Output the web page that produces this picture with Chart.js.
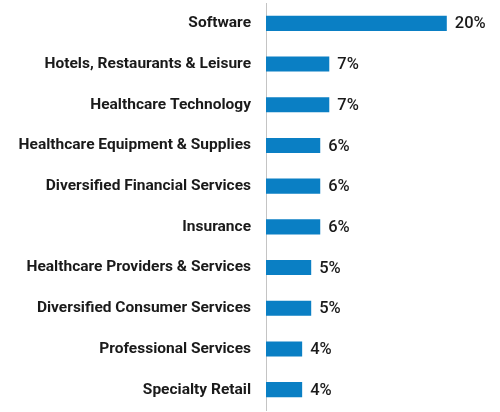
<!DOCTYPE html>
<html>
<head>
<meta charset="utf-8">
<script src="https://cdn.jsdelivr.net/npm/chart.js@4.4.0/dist/chart.umd.min.js"></script>
<style>
    html, body { margin: 0; padding: 0; background: #fff; }
    #wrap { width: 500px; height: 412px; }
</style>
</head>
<body>
<div id="wrap"><canvas id="industryChart"></canvas></div>
<script>
// Chart data
const industries = [
    'Software',
    'Hotels, Restaurants & Leisure',
    'Healthcare Technology',
    'Healthcare Equipment & Supplies',
    'Diversified Financial Services',
    'Insurance',
    'Healthcare Providers & Services',
    'Diversified Consumer Services',
    'Professional Services',
    'Specialty Retail'
];
const shares = [20, 7, 7, 6, 6, 6, 5, 5, 4, 4];

// Draw "NN%" just past the end of each bar
const valueLabels = {
    id: 'valueLabels',
    afterDatasetsDraw(chart) {
        const ctx = chart.ctx;
        const meta = chart.getDatasetMeta(0);
        ctx.save();
        ctx.font = '500 16.5px Roboto, "Liberation Sans", sans-serif';
        ctx.fillStyle = '#1a1a1a';
        ctx.textAlign = 'left';
        ctx.textBaseline = 'middle';
        meta.data.forEach((bar, i) => {
            ctx.fillText(shares[i] + '%', bar.x + 8, bar.y + 1);
        });
        ctx.restore();
    }
};

const ctx = document.getElementById('industryChart').getContext('2d');
new Chart(ctx, {
    type: 'bar',
    data: {
        labels: industries,
        datasets: [{
            data: shares,
            backgroundColor: '#0a7fc4',
            barPercentage: 0.37,
            categoryPercentage: 1.0
        }]
    },
    options: {
        indexAxis: 'y',
        responsive: true,
        maintainAspectRatio: false,
        animation: false,
        layout: { padding: { top: 3, right: 8, bottom: 2, left: 18 } },
        plugins: {
            legend: { display: false },
            tooltip: { enabled: false }
        },
        scales: {
            x: {
                display: false,
                min: 0,
                max: 25
            },
            y: {
                grid: { display: false, drawTicks: false },
                border: { color: '#c4c4c4', width: 1 },
                ticks: {
                    color: '#1a1a1a',
                    padding: 15,
                    font: { family: 'Roboto, "Liberation Sans", sans-serif', size: 15.5, weight: 'bold' }
                },
                // keep labels' room fixed and stop tick padding leaking into top/bottom
                afterFit(scale) {
                    scale.width = 248;
                    scale.paddingTop = 0;
                    scale.paddingBottom = 0;
                }
            }
        }
    },
    plugins: [valueLabels]
});
</script>
</body>
</html>
